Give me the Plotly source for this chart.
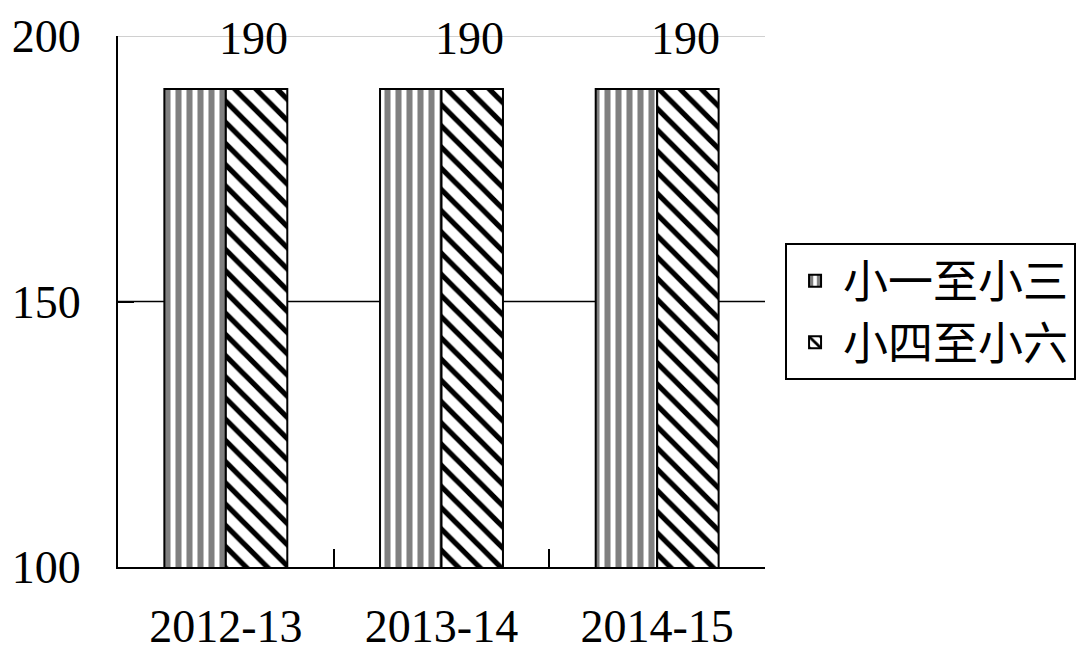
import plotly.graph_objects as go

categories = ["2012-13", "2013-14", "2014-15"]
series_names = ["小一至小三", "小四至小六"]
values_p1_p3 = [190, 190, 190]
values_p4_p6 = [190, 190, 190]
label_values = values_p4_p6
y_tickvals = [100, 150, 200]

fig = go.Figure()
fig.add_trace(go.Bar(
    name=series_names[0], x=categories, y=values_p1_p3,
    marker=dict(color="white", line=dict(color="black", width=2),
                pattern=dict(shape="|", fgcolor="#808080", bgcolor="white",
                             size=11, solidity=0.55, fillmode="replace")),
))
fig.add_trace(go.Bar(
    name=series_names[1], x=categories, y=values_p4_p6,
    marker=dict(color="white", line=dict(color="black", width=2),
                pattern=dict(shape="\\", fgcolor="black", bgcolor="white",
                             size=15, solidity=0.35, fillmode="replace")),
))

for c, v in zip(categories, label_values):
    fig.add_annotation(x=c, y=v, text=str(v), showarrow=False,
                       xshift=28, yshift=51,
                       font=dict(family="Liberation Serif", size=46, color="black"))

# reference lines: black at the middle tick, faint grey at the top tick
fig.add_shape(type="line", xref="paper", x0=0, x1=1, yref="y",
              y0=y_tickvals[1], y1=y_tickvals[1],
              line=dict(color="black", width=1.5), layer="below")
fig.add_shape(type="line", xref="paper", x0=0, x1=1, yref="y",
              y0=y_tickvals[2], y1=y_tickvals[2],
              line=dict(color="#d0d0d0", width=2), layer="below")

fig.update_layout(
    width=1088, height=666,
    margin=dict(l=110, r=331, t=28, b=107, autoexpand=False),
    paper_bgcolor="white", plot_bgcolor="white",
    barmode="group", bargap=0.43, bargroupgap=0,
    font=dict(family="Liberation Serif", size=46, color="black"),
    showlegend=True,
    legend=dict(x=1.031, y=0.610, xanchor="left", yanchor="top",
                bordercolor="black", borderwidth=2, bgcolor="white",
                font=dict(family="Noto Sans CJK TC", size=45, color="black"),
                itemsizing="constant", itemwidth=46),
    yaxis=dict(range=[100, 200], tickvals=y_tickvals, showgrid=False,
               automargin=False,
               showline=True, linecolor="black", linewidth=2,
               ticks="inside", ticklen=16, tickcolor="black", tickwidth=2,
               ticklabelstandoff=26, zeroline=False),
    xaxis=dict(showline=True, linecolor="black", linewidth=2, automargin=False,
               ticks="inside", ticklen=18, tickcolor="black", tickwidth=2,
               tickson="boundaries", ticklabelstandoff=18, showgrid=False),
)

fig.write_html("out.html")
